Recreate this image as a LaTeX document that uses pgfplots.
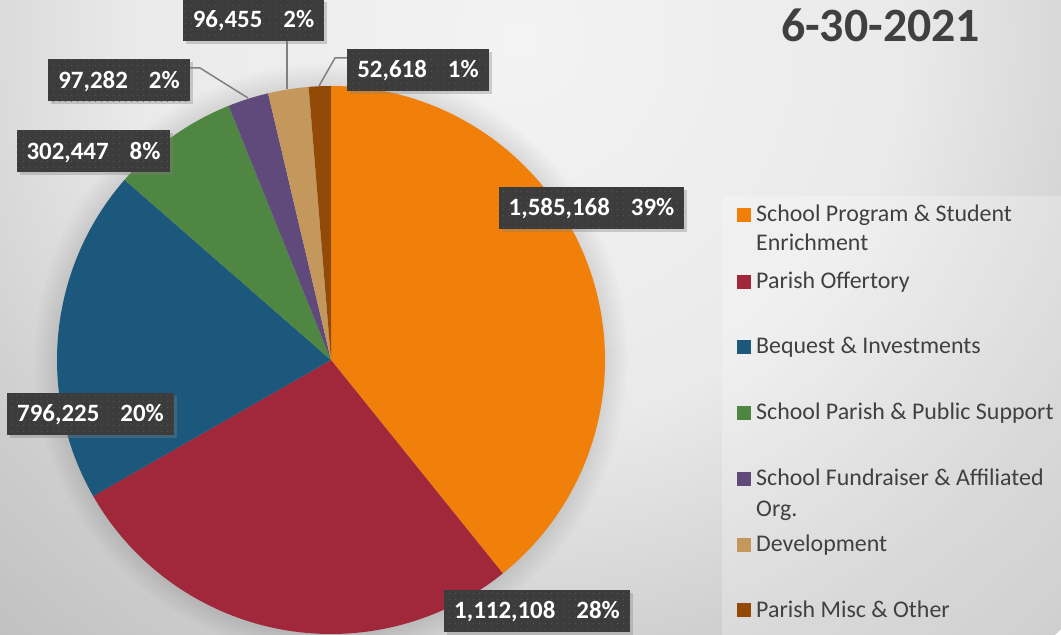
\documentclass[border=0pt]{standalone}
\usepackage{pgfplots}
\pgfplotsset{compat=1.18}
\usepackage{pgfplotstable}
\usepackage{fontspec}
\setmainfont{Carlito}
\usetikzlibrary{shadows,patterns.meta}
\pgfkeys{/pgf/number format/assume math mode=true}

\definecolor{c0}{HTML}{F0800A}
\definecolor{c1}{HTML}{A0283A}
\definecolor{c2}{HTML}{1C587C}
\definecolor{c3}{HTML}{4E8642}
\definecolor{c4}{HTML}{604A7B}
\definecolor{c5}{HTML}{C4985C}
\definecolor{c6}{HTML}{924A06}
\definecolor{txt}{HTML}{404040}
\definecolor{lblbg}{HTML}{3C3C3C}
\definecolor{dotc}{HTML}{5C5C5C}
\definecolor{lead}{HTML}{808080}
\definecolor{bgA}{HTML}{F3F3F3}
\definecolor{bgB}{HTML}{EAEAEA}
\definecolor{bgC}{HTML}{CDCDCD}
\definecolor{bgD}{HTML}{C0C0C0}
\pgfdeclareradialshading{bgsh}{\pgfpoint{0bp}{0bp}}{color(0bp)=(bgA); color(12bp)=(bgB); color(20bp)=(bgC); color(25bp)=(bgD); color(50bp)=(bgD)}

% value, shown percentage, label centre (x, y) in axis units
\pgfplotstableread{
value pct cx cy
1585168 39 591.5 427
1112108 28 537 24
796225 20 90.5 221
302447 8 93.5 483.5
97282 2 119 554.5
96455 2 253.5 615
52618 1 418 565
}\piedata

\tikzset{lbl/.style={font=\fontsize{25}{30}\selectfont\bfseries, text=white,
  inner xsep=10bp, inner ysep=13bp, text height=16bp, text depth=0bp,
  drop shadow={shadow xshift=3bp, shadow yshift=-3bp, opacity=0.35},
  preaction={fill=lblbg}, pattern={Dots[distance=6bp, radius=0.6bp]}, pattern color=dotc}}

\begin{document}
\begin{tikzpicture}
\useasboundingbox (0,0) rectangle (1061bp,635bp);
\begin{scope}
\clip (0,0) rectangle (1061bp,635bp);
\shade[shading=bgsh] (520bp,595bp) circle (800bp);
\end{scope}
\fill[white, opacity=0.25] (722bp,0) rectangle (1061bp,439bp);
\foreach \r in {275,277,...,297} \fill[black,opacity=0.007] (331bp,275bp) circle (\r bp);

\gdef\total{0}
\pgfplotsforeachungrouped \i in {0,...,6}{%
  \pgfplotstablegetelem{\i}{value}\of\piedata
  \xdef\total{\fpeval{\total+\pgfplotsretval}}}
\gdef\cum{0}
\gdef\piewedges{}
\gdef\pielabels{}
\pgfplotsforeachungrouped \i in {0,...,6}{%
  \pgfplotstablegetelem{\i}{value}\of\piedata
  \edef\val{\pgfplotsretval}%
  \edef\aStart{\fpeval{90-360*\cum/\total}}%
  \xdef\cum{\fpeval{\cum+\val}}%
  \edef\aEnd{\fpeval{90-360*\cum/\total}}%
  \pgfplotstablegetelem{\i}{pct}\of\piedata \edef\pc{\pgfplotsretval}%
  \pgfplotstablegetelem{\i}{cx}\of\piedata \edef\lx{\pgfplotsretval}%
  \pgfplotstablegetelem{\i}{cy}\of\piedata \edef\ly{\pgfplotsretval}%
  \xdef\piewedges{\expandafter\unexpanded\expandafter{\piewedges}\noexpand\fill[c\i] (axis cs:331,275) -- ++(\aStart:274bp) arc[start angle=\aStart, end angle=\aEnd, radius=274bp] -- cycle;}%
  \xdef\pielabels{\expandafter\unexpanded\expandafter{\pielabels}\noexpand\node[lbl] at (axis cs:\lx,\ly) {\noexpand\pgfmathprintnumber[fixed, precision=0, 1000 sep={,}, assume math mode=true]{\val}\noexpand\hspace{21bp}\pc\noexpand\%};}%
}

\begin{axis}[at={(0,0)}, anchor=south west, width=1061bp, height=635bp, scale only axis,
  xmin=0, xmax=1061, ymin=0, ymax=635, hide axis, clip=false]
\piewedges
\draw[lead, line width=1.5bp] (axis cs:190,567) -- (axis cs:200,567) -- (axis cs:248,537);
\draw[lead, line width=1.5bp] (axis cs:287,594) -- (axis cs:287,546);
\draw[lead, line width=1.5bp] (axis cs:347,577) -- (axis cs:335,577) -- (axis cs:319,549);
\pielabels
\end{axis}

% title
\node[anchor=base, inner sep=0, font=\fontsize{48}{56}\selectfont\bfseries, text=txt] at (880.5bp,593bp) {6-30-2021};
% legend
\foreach \c/\b/\t in {c0/413/{School Program \& Student}, c1/346.3/{Parish Offertory}, c2/281/{Bequest \& Investments}, c3/215.3/{School Parish \& Public Support}, c4/149.3/{School Fundraiser \& Affiliated}, c5/83.3/{Development}, c6/17.7/{Parish Misc \& Other}}{
  \fill[\c] (737bp,\b bp) rectangle (751bp,\b bp+14bp);
  \node[anchor=base west, inner sep=0, font=\fontsize{24}{29}\selectfont, text=txt] at (756bp,\b bp) {\t};
}
\node[anchor=base west, inner sep=0, font=\fontsize{24}{29}\selectfont, text=txt] at (756bp,384bp) {Enrichment};
\node[anchor=base west, inner sep=0, font=\fontsize{24}{29}\selectfont, text=txt] at (756bp,118.3bp) {Org.};
\end{tikzpicture}
\end{document}
